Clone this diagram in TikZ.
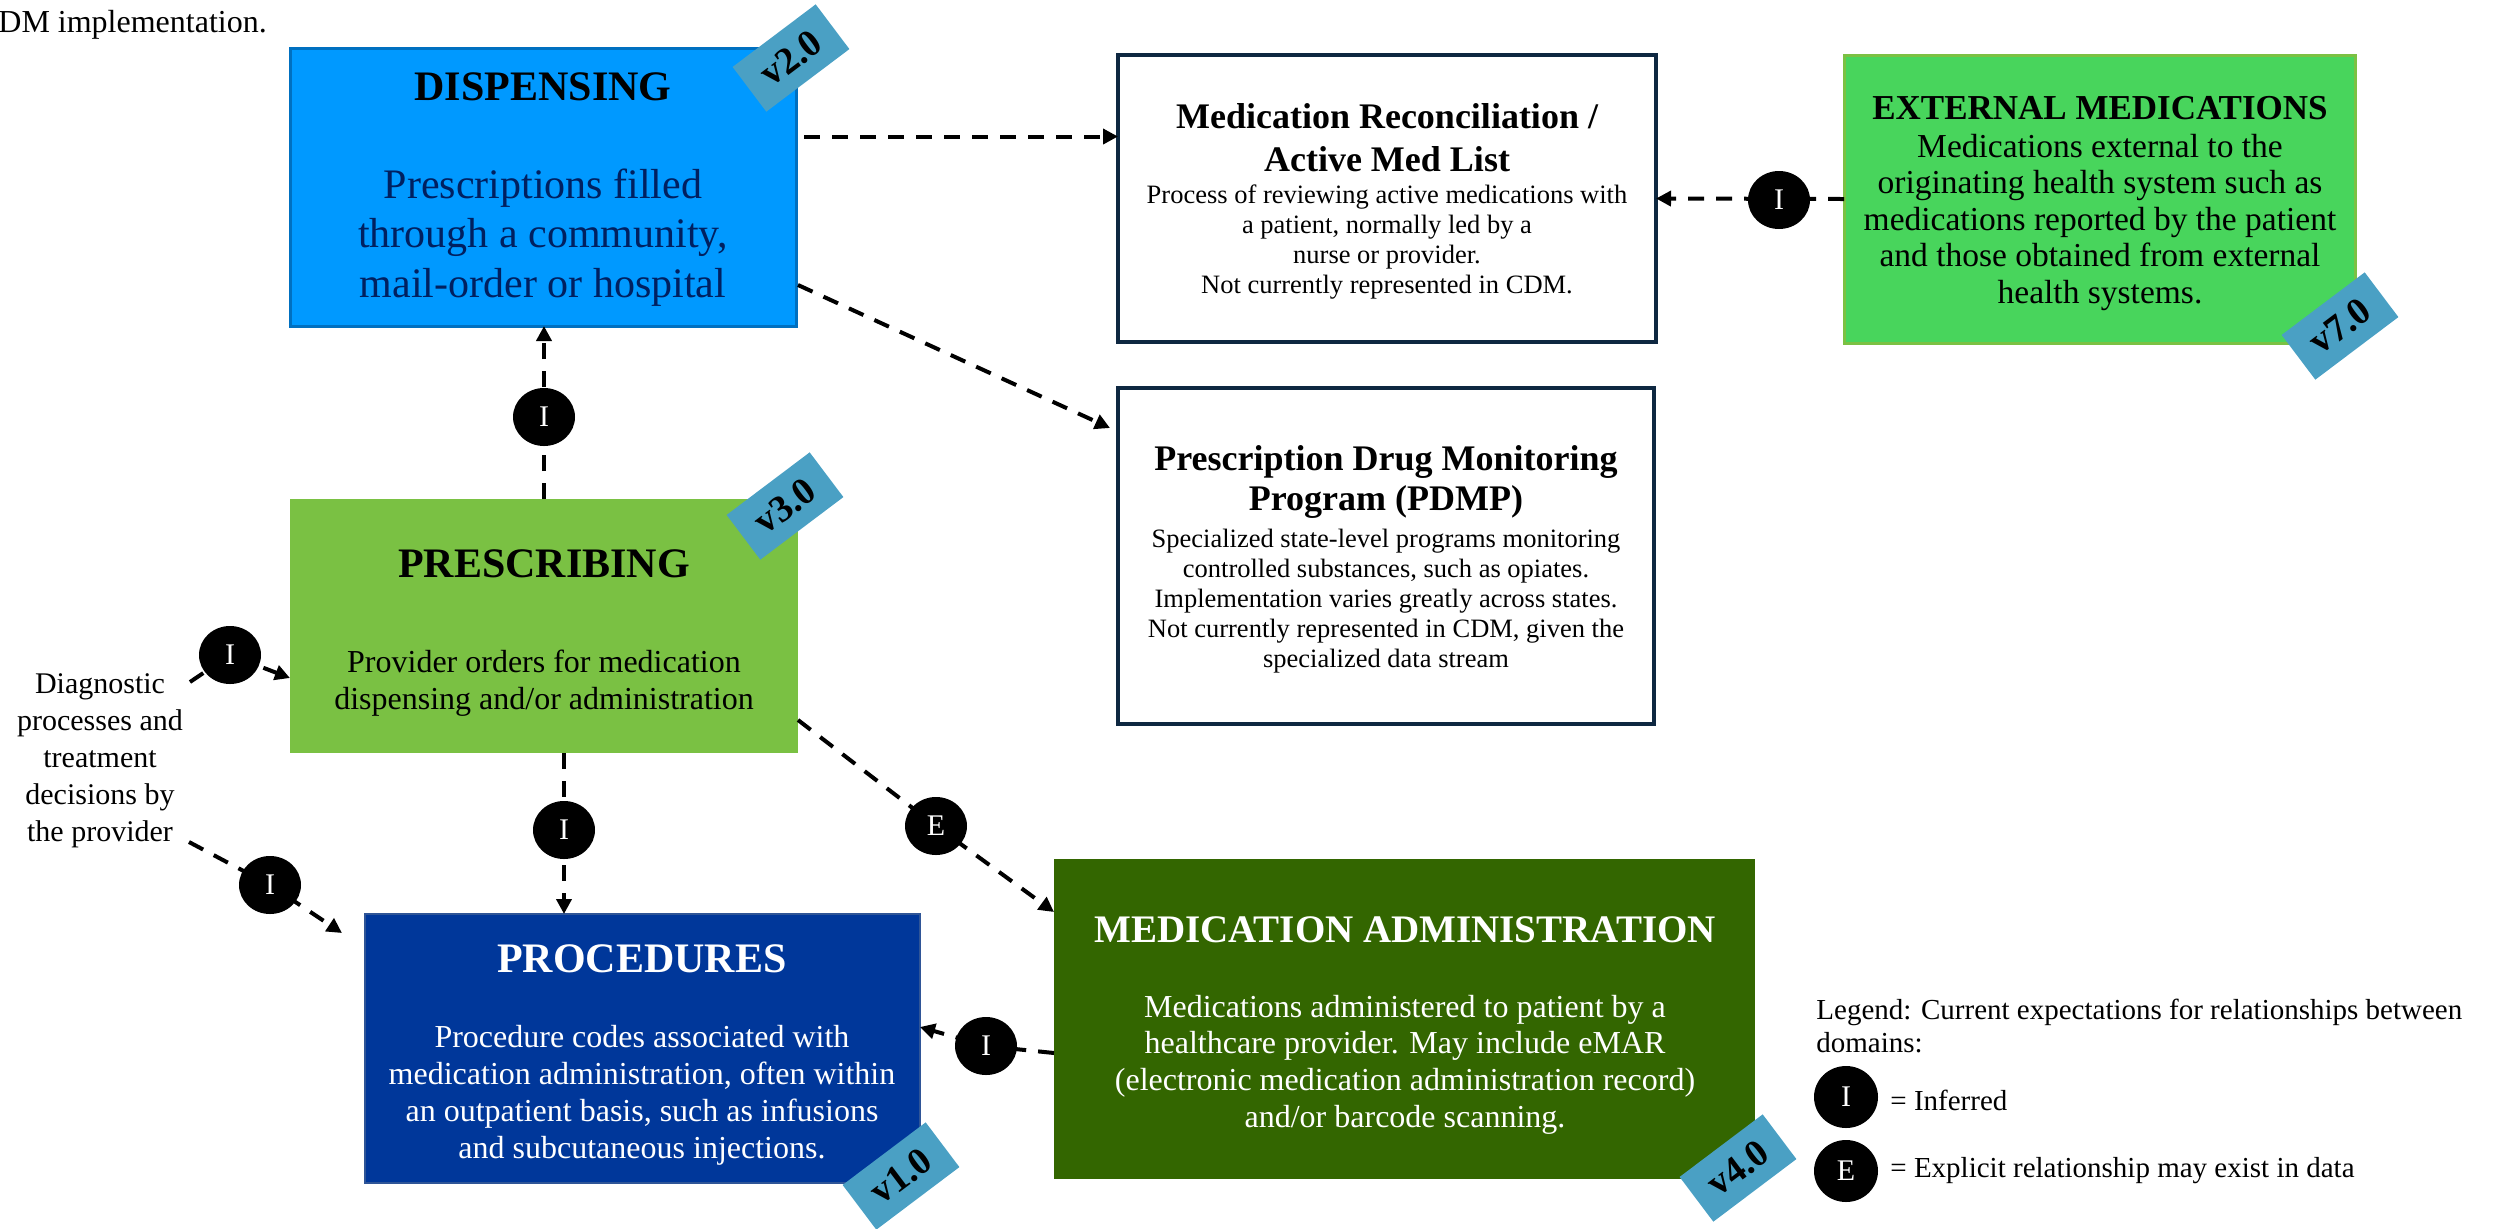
\documentclass[tikz,border=0pt]{standalone}
\usepackage{fontspec}
\setmainfont{Liberation Serif}
\usetikzlibrary{arrows.meta,shapes.geometric}
\definecolor{dispblue}{HTML}{0099FF}
\definecolor{dispedge}{HTML}{0070C0}
\definecolor{navytext}{HTML}{002060}
\definecolor{boxedge}{HTML}{0E2841}
\definecolor{extgreen}{HTML}{48D55C}
\definecolor{extedge}{HTML}{7BC143}
\definecolor{prescgreen}{HTML}{7AC143}
\definecolor{procblue}{HTML}{00379A}
\definecolor{procedge}{HTML}{2F5597}
\definecolor{admingreen}{HTML}{336600}
\definecolor{tagblue}{HTML}{4AA0C4}
\newcommand{\mlc}[1]{\begin{tabular}[t]{@{}c@{}}#1\end{tabular}}
\newcommand{\mll}[1]{\begin{tabular}[t]{@{}l@{}}#1\end{tabular}}
\tikzset{
  box/.style={anchor=north west, inner sep=0pt, outer sep=0pt},
  txt/.style={anchor=base, inner sep=0pt},
  tagbox/.style={fill=tagblue, minimum width=52pt, minimum height=28pt, rotate=37, inner sep=0pt,
    font=\fontsize{19}{22}\bfseries\selectfont},
  lab/.style={ellipse, fill=black, text=white, minimum width=31pt, minimum height=29pt, inner sep=0pt,
    font=\fontsize{15}{18}\selectfont},
  conn/.style={line width=2pt, dash pattern=on 8pt off 6pt, -{Triangle[length=7.5pt,width=7.5pt]}},
}
\begin{document}
\begin{tikzpicture}[x=0.5pt,y=-0.5pt]
\useasboundingbox (0,0) rectangle (2497,1228);

% header fragment
\node[anchor=base west, inner sep=0pt, font=\fontsize{16}{19}\selectfont] (hdr) at (-2,32) {DM implementation.};

% boxes
\node[box, fill=dispblue, draw=dispedge, line width=1.5pt, minimum width=253pt, minimum height=139pt] (disp) at (290,48) {};
\node[box, fill=white, draw=boxedge, line width=2pt, minimum width=269pt, minimum height=143.5pt] (medrec) at (1118,55) {};
\node[box, fill=white, draw=boxedge, line width=2pt, minimum width=268pt, minimum height=168pt] (pdmp) at (1118,388) {};
\node[box, fill=extgreen, draw=extedge, line width=1.5pt, minimum width=255.5pt, minimum height=144pt] (ext) at (1844,55) {};
\node[box, fill=prescgreen, minimum width=254pt, minimum height=127pt] (presc) at (290,499) {};
\node[box, fill=procblue, draw=procedge, line width=0.6pt, minimum width=277.5pt, minimum height=134.5pt] (proc) at (365,914) {};
\node[box, fill=admingreen, minimum width=350.5pt, minimum height=160pt] (admin) at (1054,859) {};

% box texts
\node[txt, font=\fontsize{21}{24.75}\bfseries\selectfont] (disp-t) at (543,100) {DISPENSING};
\node[txt, text=navytext, font=\fontsize{21}{24.75}\selectfont] (disp-b) at (543,198)
  {\mlc{Prescriptions filled\\through a community,\\mail-order or hospital}};

\node[txt, font=\fontsize{18}{21.5}\bfseries\selectfont] (medrec-t) at (1387,128)
  {\mlc{Medication Reconciliation /\\Active Med List}};
\node[txt, font=\fontsize{13.25}{15}\selectfont] (medrec-b) at (1387,203)
  {\mlc{Process of reviewing active medications with\\a patient, normally led by a\\nurse or provider.\\Not currently represented in CDM.}};

\node[txt, font=\fontsize{18}{20}\bfseries\selectfont] (pdmp-t) at (1386,470)
  {\mlc{Prescription Drug Monitoring\\Program (PDMP)}};
\node[txt, font=\fontsize{13.25}{15}\selectfont] (pdmp-b) at (1386,547)
  {\mlc{Specialized state-level programs monitoring\\controlled substances, such as opiates.\\Implementation varies greatly across states.\\Not currently represented in CDM, given the\\specialized data stream}};

\node[txt, font=\fontsize{17.5}{20}\bfseries\selectfont] (ext-t) at (2100,119) {EXTERNAL MEDICATIONS};
\node[txt, font=\fontsize{16.75}{18.25}\selectfont] (ext-b) at (2100,157)
  {\mlc{Medications external to the\\originating health system such as\\medications reported by the patient\\and those obtained from external\\health systems.}};

\node[txt, font=\fontsize{21}{24}\bfseries\selectfont] (presc-t) at (544,577) {PRESCRIBING};
\node[txt, font=\fontsize{16}{18.5}\selectfont] (presc-b) at (544,672)
  {\mlc{Provider orders for medication\\dispensing and/or administration}};

\node[txt, text=white, font=\fontsize{21}{24}\bfseries\selectfont] (proc-t) at (642,972) {PROCEDURES};
\node[txt, text=white, font=\fontsize{16}{18.5}\selectfont] (proc-b) at (642,1047)
  {\mlc{Procedure codes associated with\\medication administration, often within\\an outpatient basis, such as infusions\\and subcutaneous injections.}};

\node[txt, text=white, font=\fontsize{19.5}{22}\bfseries\selectfont] (admin-t) at (1405,942) {MEDICATION ADMINISTRATION};
\node[txt, text=white, font=\fontsize{16}{18.35}\selectfont] (admin-b) at (1405,1017)
  {\mlc{Medications administered to patient by a\\healthcare provider. May include eMAR\\(electronic medication administration record)\\and/or barcode scanning.}};

% side text
\node[txt, font=\fontsize{15}{18.5}\selectfont] (diag) at (100,693)
  {\mlc{Diagnostic\\processes and\\treatment\\decisions by\\the provider}};

% legend
\node[anchor=base west, inner sep=0pt, font=\fontsize{14.5}{16.5}\selectfont] (leg) at (1816,1019)
  {\mll{Legend: Current expectations for relationships between\\domains:}};
\node[lab, minimum width=32pt, minimum height=31pt] (legI) at (1846,1097) {I};
\node[lab, minimum width=32pt, minimum height=31pt] (legE) at (1846,1171) {E};
\node[anchor=base west, inner sep=0pt, font=\fontsize{14.5}{16.5}\selectfont] (legI-t) at (1890,1110) {= Inferred};
\node[anchor=base west, inner sep=0pt, font=\fontsize{14.5}{16.5}\selectfont] (legE-t) at (1890,1177) {= Explicit relationship may exist in data};

% label positions
\coordinate (c1) at (544,417);
\coordinate (c2) at (230,655);
\coordinate (c3) at (564,830);
\coordinate (c4) at (270,885);
\coordinate (c5) at (936,826);
\coordinate (c6) at (986,1046);
\coordinate (c7) at (1779,200);

% free ends / attachment points
\coordinate (dgA) at (190,682);
\coordinate (dgB) at (189,842);
\coordinate (mrin) at ([yshift=31pt]medrec.west);
\path (disp.east |- mrin) ++(4pt,0) coordinate (dstart);
\coordinate (pdstart) at ([shift={(1pt,-49pt)}]disp.east);
\coordinate (pdend) at ([shift={(-4pt,-20pt)}]pdmp.north west);
\coordinate (prbot) at ([xshift=10pt]presc.south);
\coordinate (prin) at ([yshift=-26pt]presc.west);
\coordinate (procin) at ([shift={(-11.5pt,-9.5pt)}]proc.north west);
\coordinate (prout) at ([yshift=-47pt]presc.east);
\coordinate (admin-in) at ([yshift=-26.5pt]admin.north west);
\coordinate (admin-out) at ([yshift=-17pt]admin.west);
\coordinate (proc-in) at ([yshift=10.75pt]proc.east);

% connectors
\draw[conn] (presc.north) -- (presc.north |- disp.south);
\draw[conn] (dgA) -- (c2) -- (presc.west |- prin);
\draw[conn] (prbot) -- (prbot |- proc.north);
\draw[conn] (dgB) -- (c4) -- (procin);
\draw[conn] (prout) -- (c5) -- (admin-in);
\draw[conn] (admin-out) -- (c6) -- (proc-in);
\draw[conn] (ext.west) -- (medrec.east);
\draw[conn] (dstart) -- (mrin);
\draw[conn] (pdstart) -- (pdend);

% labels on connectors
\node[lab] (l1) at (c1) {I};
\node[lab] (l2) at (c2) {I};
\node[lab] (l3) at (c3) {I};
\node[lab] (l4) at (c4) {I};
\node[lab] (l5) at (c5) {E};
\node[lab] (l6) at (c6) {I};
\node[lab] (l7) at (c7) {I};

% version tags
\node[tagbox] (v2) at (791,58) {v2.0};
\node[tagbox] (v3) at (785,506) {v3.0};
\node[tagbox] (v1) at (901,1176) {v1.0};
\node[tagbox] (v4) at (1738,1168) {v4.0};
\node[tagbox] (v7) at (2340,326) {v7.0};
\end{tikzpicture}
\end{document}
